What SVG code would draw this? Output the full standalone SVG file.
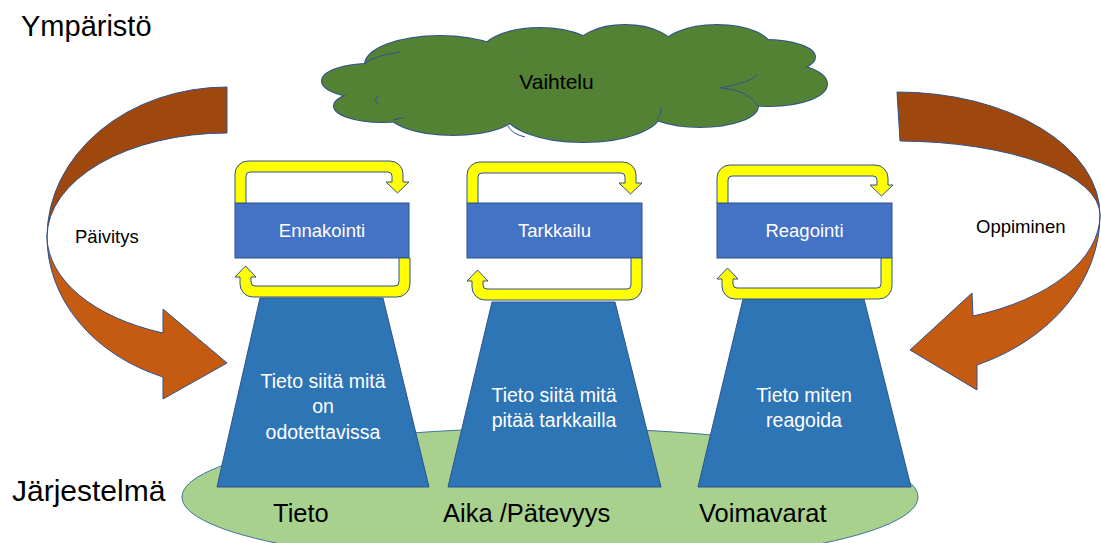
<svg xmlns="http://www.w3.org/2000/svg" width="1101" height="543" viewBox="0 0 1101 543">
<style>
text{font-family:"Liberation Sans",Arial,sans-serif}
.title{font-size:29px;fill:#000}
.base{font-size:25.5px;fill:#000}
.side{font-size:18.5px;fill:#000}
.rl{font-size:18.5px;fill:#fff;text-anchor:middle}
.tl{font-size:19.5px;fill:#fff;text-anchor:middle}
.rect{fill:#4472c4;stroke:#2f528f;stroke-width:1}
.trap{fill:#2e75b6;stroke:#2f528f;stroke-width:1}
.loop{fill:#ffff00;stroke:#2f528f;stroke-width:1;stroke-linejoin:miter}
.dark{fill:#9e480e;stroke:#2f528f;stroke-width:1}
.light{fill:#c55a11;stroke:#2f528f;stroke-width:1}
.cs{fill:#548235;stroke:#2f528f;stroke-width:2}
.cf{fill:#548235}
</style>

<g id="jarjestelma">
  <ellipse cx="550" cy="497" rx="368" ry="69" fill="#a9d18e" stroke="#41719c" stroke-width="1"/>
  <text class="title" x="12" y="501" style="font-size:30px">Järjestelmä</text>
  <text class="base" x="273" y="522">Tieto</text>
  <text class="base" x="443" y="522">Aika /Pätevyys</text>
  <text class="base" x="699" y="522">Voimavarat</text>
</g>

<g id="ymparisto">
  <text class="title" x="21" y="36">Ympäristö</text>
</g>

<g id="vaihtelu">
  <g class="cs">
    <ellipse cx="370" cy="81" rx="48" ry="17"/>
    <ellipse cx="382" cy="106" rx="48" ry="16"/>
    <ellipse cx="440" cy="65" rx="75" ry="29"/>
    <ellipse cx="540" cy="55" rx="60" ry="27"/>
    <ellipse cx="625" cy="50" rx="50" ry="25"/>
    <ellipse cx="717" cy="49" rx="55" ry="24"/>
    <ellipse cx="765" cy="57" rx="50" ry="17"/>
    <ellipse cx="770" cy="84" rx="57" ry="22"/>
    <ellipse cx="700" cy="106" rx="58" ry="21"/>
    <ellipse cx="583" cy="112" rx="78" ry="30"/>
    <ellipse cx="453" cy="112" rx="65" ry="23"/>
  </g>
  <g class="cf">
    <ellipse cx="370" cy="81" rx="48" ry="17"/>
    <ellipse cx="382" cy="106" rx="48" ry="16"/>
    <ellipse cx="440" cy="65" rx="75" ry="29"/>
    <ellipse cx="540" cy="55" rx="60" ry="27"/>
    <ellipse cx="625" cy="50" rx="50" ry="25"/>
    <ellipse cx="717" cy="49" rx="55" ry="24"/>
    <ellipse cx="765" cy="57" rx="50" ry="17"/>
    <ellipse cx="770" cy="84" rx="57" ry="22"/>
    <ellipse cx="700" cy="106" rx="58" ry="21"/>
    <ellipse cx="583" cy="112" rx="78" ry="30"/>
    <ellipse cx="453" cy="112" rx="65" ry="23"/>
    <ellipse cx="580" cy="85" rx="200" ry="38"/>
  </g>
  <g fill="none" stroke="#2f528f" stroke-width="1">
    <path d="M720,88 Q752,82 757,75"/>
    <path d="M722,88 Q748,90 758,106"/>
    <path d="M365,64 Q372,56 400,52"/>
    <path d="M378,96 Q374,100 377,104"/>
    <path d="M393,120 Q400,118 404,118"/>
    <path d="M508,126 Q512,134 525,137"/>
    <path d="M657,119 Q663,112 660,108"/>
  </g>
  <text x="556.5" y="89" style="font-size:21px;fill:#000;text-anchor:middle">Vaihtelu</text>
</g>

<g id="ennakointi">
  <polygon class="trap" points="260,298 383,298 429,487 217,487"/>
  <text class="tl" x="323" y="388">Tieto siitä mitä</text>
  <text class="tl" x="323" y="413">on</text>
  <text class="tl" x="323" y="439">odotettavissa</text>
  <rect class="rect" x="235" y="203" width="174" height="55"/>
  <text class="rl" x="322" y="237">Ennakointi</text>
</g>

<g id="tarkkailu">
  <polygon class="trap" points="492,302 615,302 661,487 448,487"/>
  <text class="tl" x="554" y="402">Tieto siitä mitä</text>
  <text class="tl" x="554" y="427">pitää tarkkailla</text>
  <rect class="rect" x="467" y="203" width="175" height="55"/>
  <text class="rl" x="554.5" y="237">Tarkkailu</text>
</g>

<g id="reagointi">
  <polygon class="trap" points="743,299 864,299 911,487 698,487"/>
  <text class="tl" x="804" y="402">Tieto miten</text>
  <text class="tl" x="804" y="427">reagoida</text>
  <rect class="rect" x="717" y="203" width="175" height="55"/>
  <text class="rl" x="804.5" y="237">Reagointi</text>
</g>

<g id="connectors">
  <!-- yellow loops -->
  <path class="loop" d="M235,203 V174 A13 13 0 0 1 248,161 H390 A13 13 0 0 1 403,174 V182 H409 L397.5,193 L386,182 H392 V176 A4 4 0 0 0 388,172 H250 A4 4 0 0 0 246,176 V203 Z"/>
  <path class="loop" d="M410,258 V284 A13 13 0 0 1 397,297 H253 A13 13 0 0 1 240,284 V277 H235 L245.5,266 L256,277 H251 V282 A4 4 0 0 0 255,286 H395 A4 4 0 0 0 399,282 V258 Z"/>
  <path class="loop" d="M467,203 V175 A13 13 0 0 1 480,162 H623 A13 13 0 0 1 636,175 V183 H642 L630.5,194 L619,183 H625 V177 A4 4 0 0 0 621,173 H482 A4 4 0 0 0 478,177 V203 Z"/>
  <path class="loop" d="M642,258 V287 A13 13 0 0 1 629,300 H485 A13 13 0 0 1 472,287 V281 H467 L477.5,270 L488,281 H483 V285 A4 4 0 0 0 487,289 H627 A4 4 0 0 0 631,285 V258 Z"/>
  <path class="loop" d="M717,203 V178 A13 13 0 0 1 730,165 H875 A13 13 0 0 1 888,178 V185 H893 L881.5,196 L870,185 H877 V180 A4 4 0 0 0 873,176 H732 A4 4 0 0 0 728,180 V203 Z"/>
  <path class="loop" d="M892,258 V286 A13 13 0 0 1 879,299 H735 A13 13 0 0 1 722,286 V279 H717 L727.5,268 L738,279 H733 V284 A4 4 0 0 0 737,288 H877 A4 4 0 0 0 881,284 V258 Z"/>
  <!-- Päivitys curved arrow -->
  <path class="dark" d="M227,87 A180 150 0 0 0 47,237 A180 104 0 0 1 227,133 Z"/>
  <path class="light" d="M47,237 A180 150 0 0 0 163,377 L163,399 L227,363 L163,309 L163,333 A180 104 0 0 1 47,237 Z"/>
  <text class="side" x="75" y="243">Päivitys</text>
  <!-- Oppiminen curved arrow -->
  <path class="dark" d="M897,92 A203 123 0 0 1 1100,215 A203 74 0 0 0 900,141 Z"/>
  <path class="light" d="M1100,215 A203 163 0 0 1 977,365 L977,390 L910,350 L972,293 L973,316 A203 109 0 0 0 1100,215 Z"/>
  <text class="side" x="976" y="233">Oppiminen</text>
</g>
</svg>
